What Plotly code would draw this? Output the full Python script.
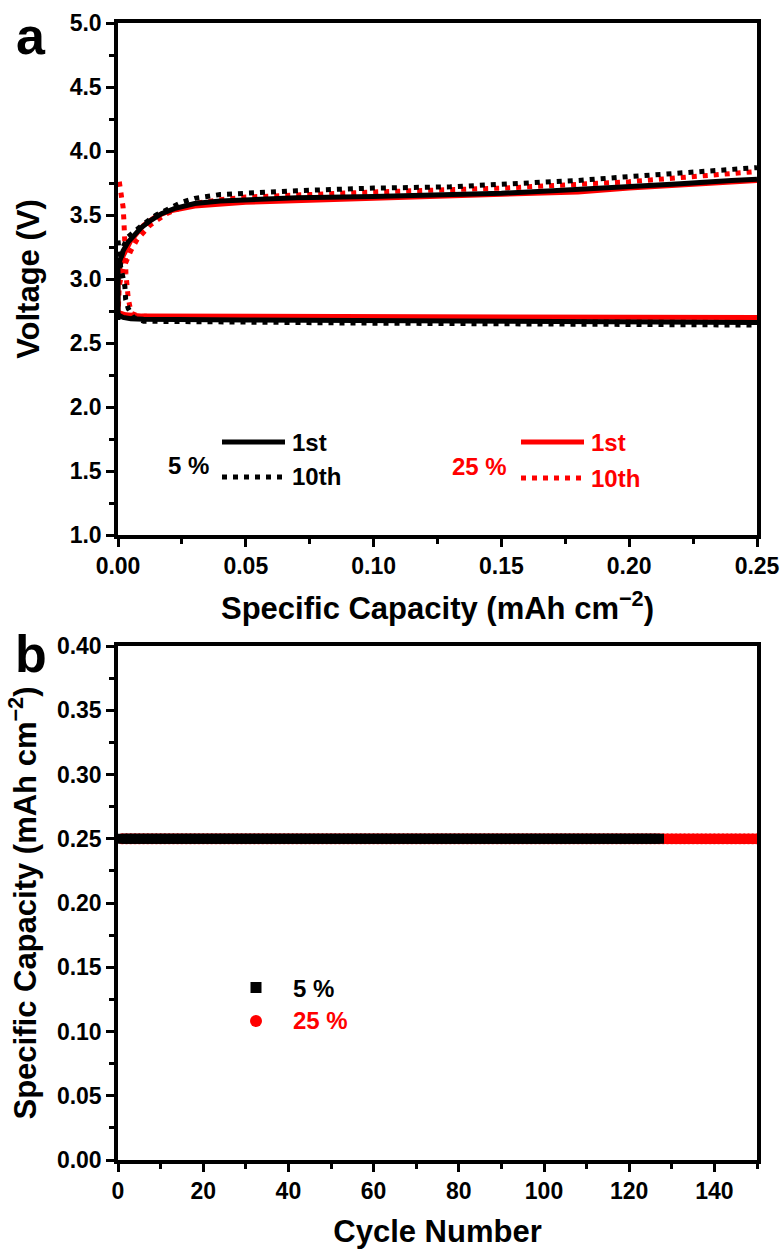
import plotly.graph_objects as go
from plotly.subplots import make_subplots

# ---------------- data (panel a) ----------------
cap_5_1st_ch = [0, 0, 0.001, 0.002, 0.004, 0.006, 0.009, 0.013, 0.017, 0.022, 0.03, 0.04, 0.05,
                0.07, 0.1, 0.11, 0.13, 0.15, 0.17, 0.18, 0.2, 0.22, 0.24, 0.25]
v_5_1st_ch = [2.68, 3.10, 3.16, 3.22, 3.29, 3.34, 3.40, 3.46, 3.51, 3.55, 3.59, 3.61, 3.62,
              3.635, 3.645, 3.65, 3.66, 3.67, 3.69, 3.70, 3.72, 3.745, 3.77, 3.78]
cap_5_1st_dis = [0, 0.002, 0.005, 0.01, 0.05, 0.1, 0.15, 0.2, 0.25]
v_5_1st_dis = [2.72, 2.70, 2.69, 2.685, 2.68, 2.675, 2.67, 2.665, 2.66]

cap_5_10th_ch = [0, 0.002, 0.004, 0.007, 0.01, 0.015, 0.02, 0.025, 0.03, 0.04, 0.05, 0.07, 0.1,
                 0.13, 0.15, 0.18, 0.2, 0.22, 0.25]
v_5_10th_ch = [3.0, 3.25, 3.33, 3.38, 3.43, 3.5, 3.55, 3.6, 3.63, 3.66, 3.67, 3.69, 3.71,
               3.72, 3.74, 3.77, 3.80, 3.83, 3.87]
cap_5_10th_dis = [0, 0.001, 0.0027, 0.003, 0.004, 0.006, 0.01, 0.05, 0.1, 0.15, 0.2, 0.25]
v_5_10th_dis = [3.3, 3.1, 2.94, 2.84, 2.77, 2.70, 2.67, 2.66, 2.655, 2.65, 2.645, 2.64]

cap_25_1st_ch = [0, 0, 0.002, 0.005, 0.01, 0.015, 0.02, 0.03, 0.05, 0.1, 0.15, 0.18, 0.2, 0.25]
v_25_1st_ch = [2.72, 3.05, 3.18, 3.30, 3.42, 3.49, 3.53, 3.57, 3.60, 3.63, 3.66, 3.68, 3.71, 3.77]
cap_25_1st_dis = [0, 0.003, 0.01, 0.25]
v_25_1st_dis = [2.74, 2.72, 2.71, 2.70]

cap_25_10th_ch = [0, 0.0005, 0.002, 0.0035, 0.005, 0.0075, 0.01, 0.0125, 0.016, 0.019, 0.025,
                  0.03, 0.04, 0.05, 0.1, 0.15, 0.2, 0.25]
v_25_10th_ch = [2.70, 2.95, 3.08, 3.15, 3.22, 3.31, 3.37, 3.42, 3.47, 3.51, 3.56,
                3.59, 3.62, 3.64, 3.68, 3.71, 3.76, 3.84]
cap_25_10th_dis = [0.0005, 0.0012, 0.002, 0.0023, 0.0027, 0.0029, 0.0031, 0.0035, 0.004, 0.0047,
                   0.0055, 0.008, 0.05, 0.1, 0.15, 0.2, 0.25]
v_25_10th_dis = [3.76, 3.67, 3.56, 3.46, 3.33, 3.17, 3.04, 2.92, 2.85, 2.78,
                 2.73, 2.71, 2.69, 2.685, 2.68, 2.68, 2.68]

# ---------------- data (panel b) ----------------
cycles_5 = list(range(1, 128))
capacity_5 = [0.25] * len(cycles_5)
cycles_25 = list(range(1, 151))
capacity_25 = [0.25] * len(cycles_25)

xticks_a = [0, 0.05, 0.10, 0.15, 0.20, 0.25]
yticks_a = [1.0, 1.5, 2.0, 2.5, 3.0, 3.5, 4.0, 4.5, 5.0]
xticks_b = [0, 20, 40, 60, 80, 100, 120, 140]
yticks_b = [0.0, 0.05, 0.10, 0.15, 0.20, 0.25, 0.30, 0.35, 0.40]

RED = "#ff0000"
BLACK = "#000000"
FONT = "Arial, Liberation Sans, sans-serif"

# ---------------- layout geometry ----------------
W, H = 782, 1249
L, R, T, B = 118, 25, 23, 89
PW = W - L - R
PH = H - T - B


def px(xp):
    return (xp - L) / PW


def py(yp):
    return (H - B - yp) / PH


top_dom = [py(535), 1.0]
bot_dom = [0.0, py(646)]

fig = make_subplots(rows=2, cols=1)

DOT = "5px,6px"
LW = 5

# red first, black on top
fig.add_trace(go.Scatter(x=cap_25_10th_ch, y=v_25_10th_ch, mode="lines",
                         line=dict(color=RED, width=LW, dash=DOT)), row=1, col=1)
fig.add_trace(go.Scatter(x=cap_25_10th_dis, y=v_25_10th_dis, mode="lines",
                         line=dict(color=RED, width=LW, dash=DOT)), row=1, col=1)
fig.add_trace(go.Scatter(x=cap_25_1st_ch, y=v_25_1st_ch, mode="lines",
                         line=dict(color=RED, width=LW)), row=1, col=1)
fig.add_trace(go.Scatter(x=cap_25_1st_dis, y=v_25_1st_dis, mode="lines",
                         line=dict(color=RED, width=LW)), row=1, col=1)
fig.add_trace(go.Scatter(x=cap_5_10th_ch, y=v_5_10th_ch, mode="lines",
                         line=dict(color=BLACK, width=LW, dash=DOT)), row=1, col=1)
fig.add_trace(go.Scatter(x=cap_5_10th_dis, y=v_5_10th_dis, mode="lines",
                         line=dict(color=BLACK, width=LW, dash=DOT)), row=1, col=1)
fig.add_trace(go.Scatter(x=cap_5_1st_ch, y=v_5_1st_ch, mode="lines",
                         line=dict(color=BLACK, width=LW)), row=1, col=1)
fig.add_trace(go.Scatter(x=cap_5_1st_dis, y=v_5_1st_dis, mode="lines",
                         line=dict(color=BLACK, width=LW)), row=1, col=1)

fig.add_trace(go.Scatter(x=cycles_25, y=capacity_25, mode="markers",
                         marker=dict(symbol="circle", size=11, color=RED, line=dict(width=0))),
              row=2, col=1)
fig.add_trace(go.Scatter(x=cycles_5, y=capacity_5, mode="markers",
                         marker=dict(symbol="square", size=10, color=BLACK, line=dict(width=0))),
              row=2, col=1)

axis_common = dict(showline=True, linecolor="black", linewidth=3.5, mirror=True,
                   ticks="outside", ticklen=8, tickwidth=3, tickcolor="black",
                   showgrid=False, zeroline=False, automargin=False,
                   tickfont=dict(family=FONT, size=23, color="black", weight="bold"),
                   title_font=dict(family=FONT, size=31, color="black", weight="bold"))

fig.update_xaxes(**axis_common)
fig.update_yaxes(**axis_common)

MINOR = dict(ticks="outside", ticklen=5, tickwidth=3, tickcolor="black")

fig.update_xaxes(row=1, col=1, range=[0, 0.25], tickvals=xticks_a, tickformat=".2f",
                 minor=dict(dtick=0.025, tick0=0, **MINOR),
                 title_text="Specific Capacity (mAh cm<sup>−2</sup>)", title_standoff=20,
                 domain=[0, 1])
fig.update_yaxes(row=1, col=1, range=[1.0, 5.0], tickvals=yticks_a, tickformat=".1f",
                 minor=dict(dtick=0.25, tick0=1.0, **MINOR),
                 title_text="Voltage (V)", title_standoff=22, domain=top_dom)
fig.update_xaxes(row=2, col=1, range=[0, 150], tickvals=xticks_b,
                 minor=dict(dtick=10, tick0=0, **MINOR),
                 title_text="Cycle Number", title_standoff=22, domain=[0, 1])
fig.update_yaxes(row=2, col=1, range=[0, 0.40], tickvals=yticks_b, tickformat=".2f",
                 minor=dict(dtick=0.025, tick0=0, **MINOR),
                 title_text="Specific Capacity (mAh cm<sup>−2</sup>)", title_standoff=12,
                 domain=bot_dom)

shapes = []
annotations = []


def text(xp, yp, s, color, size=24, xanchor="left"):
    annotations.append(dict(x=px(xp), y=py(yp), xref="paper", yref="paper", text=s,
                            showarrow=False, xanchor=xanchor, yanchor="middle",
                            font=dict(family=FONT, size=size, color=color, weight="bold")))


def seg(x0, x1, yp, color, dash=None):
    shapes.append(dict(type="line", xref="paper", yref="paper", x0=px(x0), x1=px(x1),
                       y0=py(yp), y1=py(yp),
                       line=dict(color=color, width=LW, dash=dash if dash else "solid")))


# panel a legends
seg(222, 285, 442, BLACK)
seg(222, 285, 477, BLACK, DOT)
text(290, 442, "1st", BLACK)
text(290, 477, "10th", BLACK)
text(166, 465, "5 %", BLACK)

seg(521, 584, 442, RED)
seg(521, 584, 478, RED, DOT)
text(589, 442, "1st", RED)
text(589, 478, "10th", RED)
text(450, 467, "25 %", RED)

# panel b legend
shapes.append(dict(type="rect", xref="paper", yref="paper", x0=px(250.5), x1=px(261.5),
                   y0=py(993), y1=py(982), fillcolor=BLACK, line=dict(width=0)))
shapes.append(dict(type="circle", xref="paper", yref="paper", x0=px(250), x1=px(262),
                   y0=py(1027), y1=py(1015), fillcolor=RED, line=dict(width=0)))
text(291, 988, "5 %", BLACK)
text(291, 1021, "25 %", RED)

# panel labels
text(31, 36, "a", BLACK, size=52, xanchor="center")
text(31, 654, "b", BLACK, size=52, xanchor="center")

fig.update_layout(width=W, height=H, margin=dict(l=L, r=R, t=T, b=B),
                  paper_bgcolor="white", plot_bgcolor="white", showlegend=False,
                  shapes=shapes, annotations=annotations,
                  font=dict(family=FONT, color="black"))

fig.write_html("out.html")
